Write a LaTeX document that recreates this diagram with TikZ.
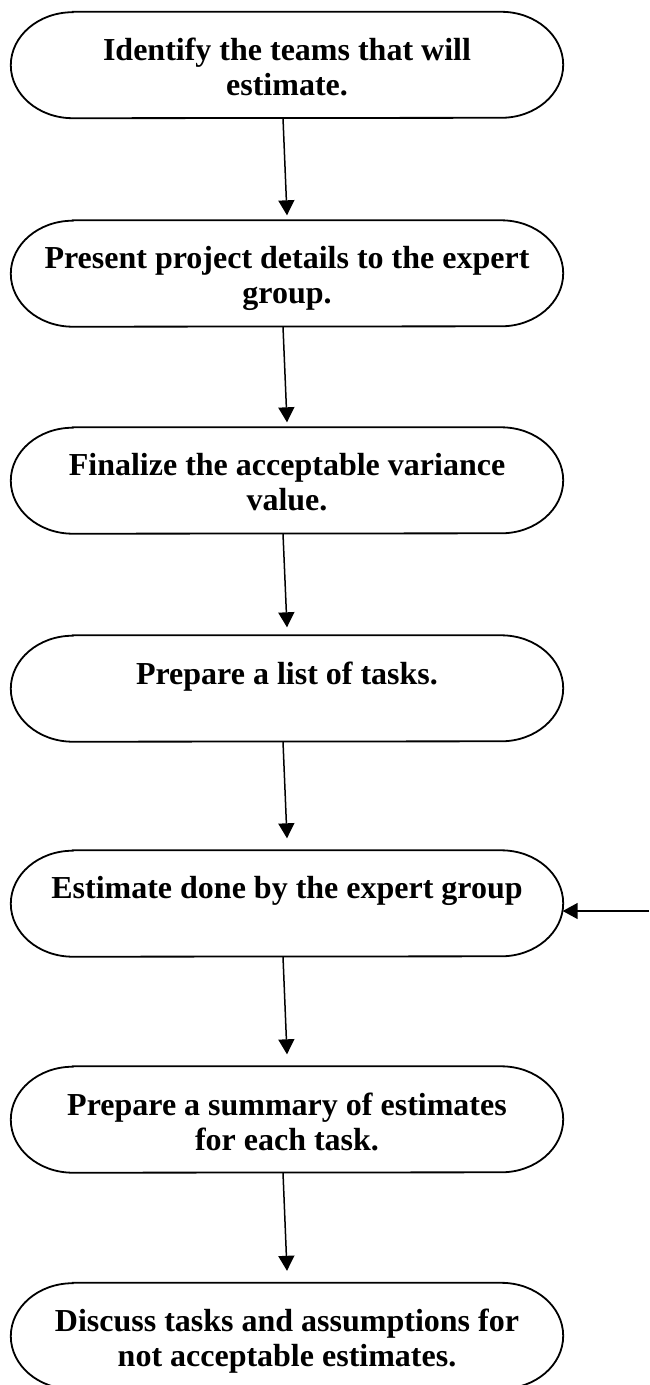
\documentclass[tikz,border=0pt]{standalone}
\usepackage{fontspec}
\setmainfont{Liberation Serif}
\usetikzlibrary{arrows.meta}
\begin{document}
\begin{tikzpicture}[x=1pt,y=-1pt,
  box/.style={minimum width=552pt, minimum height=106pt, inner sep=0pt},
  outline/.style={draw, line width=1.8pt},
  txt/.style={font=\bfseries\fontsize{32}{35}\selectfont, align=center, inner sep=0pt, anchor=north},
  arr/.style={line width=1.5pt, -{Triangle[length=15pt,width=16pt]}}]
\useasboundingbox (0,0) rectangle (649,1385);
\clip (0,0) rectangle (649,1385);
\node[box] (b1) at (287,65) {};
\node[box] (b2) at (287,273.5) {};
\node[box] (b3) at (287,480.5) {};
\node[box] (b4) at (287,688.5) {};
\node[box] (b5) at (287,903.5) {};
\node[box] (b6) at (287,1119.5) {};
\node[box] (b7) at (287,1336) {};
\foreach \n in {b1,b2,b3,b4,b5,b6,b7}
  \draw[outline] ([xshift=62pt]\n.north west) -- ([xshift=-62pt]\n.north east)
    arc[start angle=90, end angle=-90, x radius=62pt, y radius=53pt]
    -- ([xshift=62pt]\n.south west)
    arc[start angle=270, end angle=90, x radius=62pt, y radius=53pt] -- cycle;
\node[txt] (t1) at ([yshift=-26pt]b1.north) {Identify the teams that will\\estimate.};
\node[txt] (t2) at ([yshift=-26pt]b2.north) {Present project details to the expert\\group.};
\node[txt] (t3) at ([yshift=-26pt]b3.north) {Finalize the acceptable variance\\value.};
\node[txt] (t4) at ([yshift=-26pt]b4.north) {Prepare a list of tasks.};
\node[txt] (t5) at ([yshift=-26pt]b5.north) {Estimate done by the expert group};
\node[txt] (t6) at ([yshift=-26pt]b6.north) {Prepare a summary of estimates\\for each task.};
\node[txt] (t7) at ([yshift=-26pt]b7.north) {Discuss tasks and assumptions for\\not acceptable estimates.};
\draw[arr] ([xshift=-4pt]b1.south) -- ([yshift=5pt]b2.north);
\draw[arr] ([xshift=-4pt]b2.south) -- ([yshift=5pt]b3.north);
\draw[arr] ([xshift=-4pt]b3.south) -- ([yshift=8pt]b4.north);
\draw[arr] ([xshift=-4pt]b4.south) -- ([yshift=12pt]b5.north);
\draw[arr] ([xshift=-4pt]b5.south) -- ([yshift=12pt]b6.north);
\draw[arr] ([xshift=-4pt]b6.south) -- ([yshift=12pt]b7.north);
\coordinate (fb) at (649,911);
\draw[arr] (fb) -- ([xshift=-0.5pt]b5.east |- fb);
\end{tikzpicture}
\end{document}
